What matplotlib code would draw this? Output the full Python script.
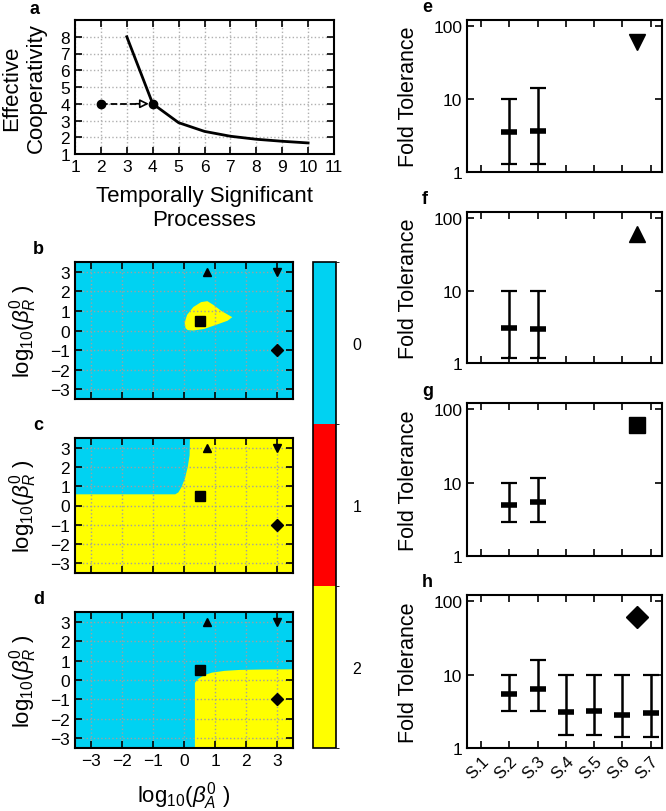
import numpy as np
import matplotlib.pyplot as plt
from matplotlib.colors import ListedColormap, BoundaryNorm
from matplotlib.cm import ScalarMappable

plt.rcParams['font.family'] = ['Liberation Sans', 'DejaVu Sans']
plt.rcParams['mathtext.fontset'] = 'custom'
plt.rcParams['mathtext.rm'] = 'Liberation Sans'
plt.rcParams['mathtext.it'] = 'Liberation Sans:italic'

CYAN = '#00d2f2'
RED = '#ff0000'
YELLOW = '#ffff00'

# panel a: effective cooperativity vs number of processes
processes = [3, 4, 5, 6, 7, 8, 9, 10]
cooperativity = [8, 4, 2.87, 2.35, 2.06, 1.88, 1.76, 1.66]
arrow_start = (2, 4)
arrow_end = (4, 4)

# panels b-d: phase regions (boundary points)
blob_b = [(0.05, 0.12), (0.02, 0.4), (0.1, 0.8), (0.3, 1.2), (0.55, 1.45), (0.75, 1.5),
          (0.95, 1.3), (1.2, 1.0), (1.55, 0.68), (1.4, 0.5), (1.05, 0.3),
          (0.65, 0.08), (0.3, 0.0), (0.12, 0.02)]
region_c = [(-3.5, 3.5), (0.19, 3.5), (0.18, 2.6), (0.12, 2.0), (0.03, 1.4),
            (-0.08, 0.95), (-0.18, 0.68), (-0.28, 0.58), (-3.5, 0.58)]
region_d = [(0.35, -3.5), (0.35, -0.15), (0.45, 0.05), (0.65, 0.25), (0.9, 0.38),
            (1.3, 0.47), (1.8, 0.52), (2.5, 0.54), (3.5, 0.55), (3.5, -3.5)]
phase_bg = [CYAN, YELLOW, CYAN]
phase_fg = [YELLOW, CYAN, YELLOW]
phase_regions = [blob_b, region_c, region_d]
pts_up = (0.75, 3)
pts_down = (3, 3)
pts_square = (0.5, 0.5)
pts_diamond = (3, -1)

# panels e-h: fold tolerance
strains = ['S.1', 'S.2', 'S.3', 'S.4', 'S.5', 'S.6', 'S.7']
tol_center = [
    [np.nan, 3.5, 3.7, np.nan, np.nan, np.nan, np.nan],
    [np.nan, 3.0, 2.95, np.nan, np.nan, np.nan, np.nan],
    [np.nan, 5.0, 5.35, np.nan, np.nan, np.nan, np.nan],
    [np.nan, 5.4, 6.4, 3.12, 3.15, 2.8, 2.98],
]
tol_low = [
    [np.nan, 1.3, 1.3, np.nan, np.nan, np.nan, np.nan],
    [np.nan, 1.18, 1.18, np.nan, np.nan, np.nan, np.nan],
    [np.nan, 2.9, 2.9, np.nan, np.nan, np.nan, np.nan],
    [np.nan, 3.18, 3.18, 1.5, 1.5, 1.41, 1.41],
]
tol_high = [
    [np.nan, 10, 14, np.nan, np.nan, np.nan, np.nan],
    [np.nan, 10, 10, np.nan, np.nan, np.nan, np.nan],
    [np.nan, 10, 11.7, np.nan, np.nan, np.nan, np.nan],
    [np.nan, 10, 16, 10, 10, 10, 10],
]
sym_markers = ['v', '^', 's', 'D']
sym_sizes = [12, 12, 11, 11]
sym_pos = (6.5, 60)

fig = plt.figure(figsize=(6.66, 8.12), dpi=100)
W, H = 666, 812


def rect(l, t, r, b):
    return [l / W, 1 - b / H, (r - l) / W, (b - t) / H]


def style(ax):
    ax.tick_params(direction='in', top=True, right=True, length=5, width=1.2,
                   labelsize=12.5)
    for s in ax.spines.values():
        s.set_linewidth(1.5)


# ---- a
ax = fig.add_axes(rect(75, 21, 334, 155))
ax.plot(processes, cooperativity, color='k', lw=2)
ax.plot([arrow_start[0], 3.45], [arrow_start[1], arrow_end[1]], 'k--', lw=1.3)
ax.annotate('', xy=(3.85, 4), xytext=(3.35, 4),
            arrowprops=dict(arrowstyle='-|>', fc='white', ec='k', lw=1.2,
                            mutation_scale=13, shrinkA=0, shrinkB=0))
ax.plot(*zip(arrow_start, arrow_end), 'ko', ms=6, ls='none')
ax.set_xlim(1, 11)
ax.set_ylim(1, 9)
ax.set_xticks(range(1, 12))
ax.set_yticks(range(1, 9))
ax.grid(True, color='#b0b0b0', ls=':', lw=1)
style(ax)
ax.set_ylabel('Effective\nCooperativity', fontsize=16, labelpad=10)
ax.set_xlabel('Temporally Significant\nProcesses', fontsize=16, labelpad=8)
fig.text(30 / W, 1 - 9 / H, 'a', fontsize=13, fontweight='bold', va='center')

# ---- b-d
tops = [(263, 400), (439, 574), (613, 749)]
for i, (t, b) in enumerate(tops):
    ax = fig.add_axes(rect(75, t, 293, b))
    ax.set_facecolor(phase_bg[i])
    xs, ys = zip(*phase_regions[i])
    ax.fill(xs, ys, color=phase_fg[i], lw=0)
    ax.plot(*pts_up, 'k^', ms=6)
    ax.plot(*pts_down, 'kv', ms=6)
    ax.plot(*pts_square, 'ks', ms=7)
    ax.plot(*pts_diamond, 'kD', ms=6)
    ax.set_xlim(-3.5, 3.5)
    ax.set_ylim(-3.5, 3.5)
    ax.set_xticks(range(-3, 4))
    ax.set_yticks(range(-3, 4))
    ax.grid(True, color='#a0a0a0', ls=':', lw=1)
    style(ax)
    ax.set_ylabel(r'log$_{10}$($\beta_R^0$ )', fontsize=16, labelpad=8)
    if i < 2:
        ax.set_xticklabels([])
    else:
        ax.set_xlabel(r'log$_{10}$($\beta_A^0$ )', fontsize=16, labelpad=8)
    fig.text(33 / W, 1 - (t - 13) / H, 'bcd'[i], fontsize=13,
             fontweight='bold', va='center')

# colorbar
cax = fig.add_axes(rect(313, 263, 336, 749))
cmap = ListedColormap([CYAN, RED, YELLOW])
norm = BoundaryNorm([-0.5, 0.5, 1.5, 2.5], 3)
cb = fig.colorbar(ScalarMappable(norm=norm, cmap=cmap), cax=cax, ticks=[0, 1, 2])
cb.ax.invert_yaxis()
cb.ax.tick_params(length=0, labelsize=11.5, pad=12)
cb.outline.set_linewidth(1.2)

# ---- e-h
rows = [(21, 173), (213, 364), (404, 557), (596, 749)]
xpos = np.arange(1, 8)
for i, (t, b) in enumerate(rows):
    ax = fig.add_axes(rect(467, t, 662, b))
    c = np.array(tol_center[i])
    lo = np.array(tol_low[i])
    hi = np.array(tol_high[i])
    ax.errorbar(xpos, c, yerr=[c - lo, hi - c], fmt='none', ecolor='k',
                elinewidth=1.8, capsize=6, capthick=1.6)
    ax.plot(xpos, c, 'k_', ms=12, mew=4)
    ax.plot(*sym_pos, color='k', marker=sym_markers[i], ms=sym_sizes[i])
    ax.set_yscale('log')
    ax.set_ylim(1, 121)
    ax.set_xlim(0.5, 7.4)
    ax.set_yticks([1, 10, 100])
    ax.set_yticklabels(['1', '10', '100'])
    ax.yaxis.set_minor_locator(plt.NullLocator())
    ax.set_xticks(xpos)
    style(ax)
    if i < 3:
        ax.set_xticklabels([])
    else:
        ax.set_xticklabels(strains, rotation=45, ha='right',
                           rotation_mode='anchor', fontsize=12)
    ax.set_ylabel('Fold Tolerance', fontsize=15.5, labelpad=10)
    fig.text(422 / W, 1 - (t - 13) / H, 'efgh'[i], fontsize=13,
             fontweight='bold', va='center')

fig.savefig('out.png', dpi=100)
